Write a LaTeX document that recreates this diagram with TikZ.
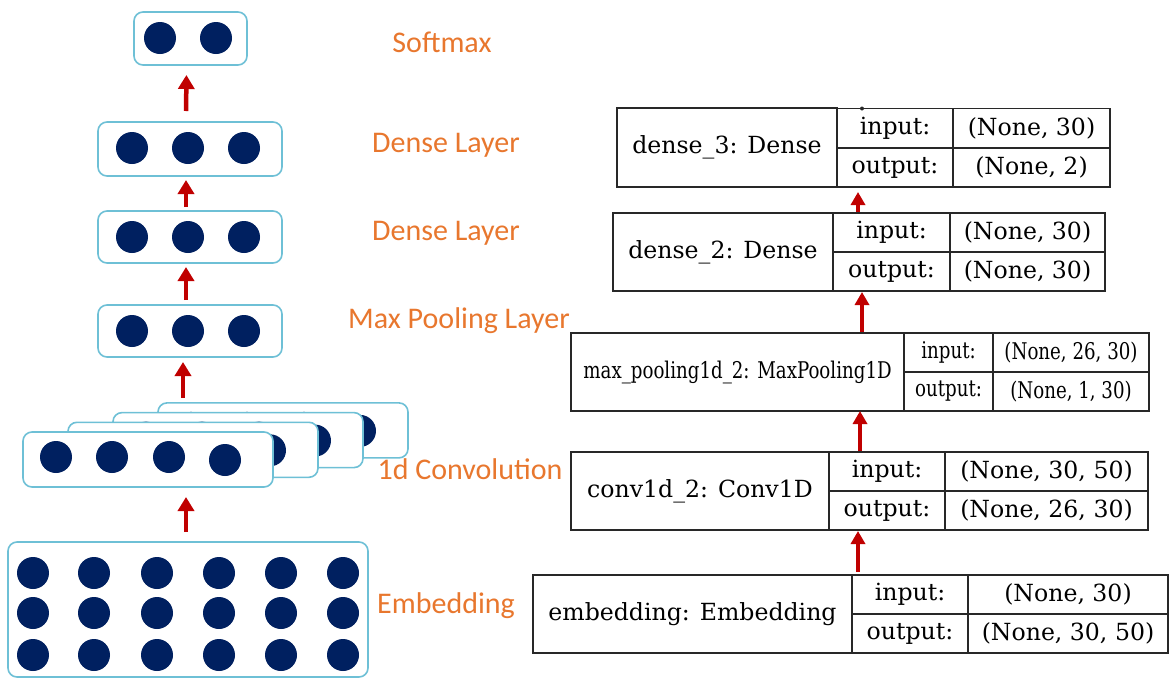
\documentclass[tikz,border=0pt]{standalone}
\usepackage{fontspec}
\usepackage{graphicx}
\setmainfont{DejaVu Serif}
\newfontfamily\calibri{Carlito}
\newfontfamily\condserif{DejaVu Serif Condensed}
\usetikzlibrary{arrows.meta,positioning}
\definecolor{layerline}{RGB}{110,192,214}
\definecolor{unitfill}{RGB}{0,32,96}
\definecolor{flowred}{RGB}{192,0,0}
\definecolor{layertext}{RGB}{232,119,46}
\definecolor{tabline}{RGB}{40,40,40}
\newcommand{\squeeze}[1]{\scalebox{0.88}[1]{#1}}
\tikzset{
  layerbox/.style={draw=layerline,line width=1.6pt,rounded corners=9pt,fill=white,inner sep=0pt,outer sep=0pt},
  unit/.style={fill=unitfill},
  flow/.style={draw=flowred,line width=4.5pt,-{Triangle[length=14pt,width=16pt]}},
  tabflow/.style={draw=flowred,line width=4pt,-{Triangle[length=13pt,width=14pt]}},
  layername/.style={text=layertext,font=\calibri\fontsize{30}{30}\selectfont,inner sep=0pt},
  cell/.style={draw=tabline,line width=1.3pt,inner sep=0pt,outer sep=0pt,minimum height=39pt,font=\fontsize{23.6}{23.6}\selectfont},
  namecell/.style={cell,minimum height=78pt},
  narrow/.style={font=\condserif\fontsize{23}{23}\selectfont},
}
\begin{document}
\begin{tikzpicture}[x=1pt,y=-1pt,>=latex]
\useasboundingbox (0,0) rectangle (1171,678);
%% left: layers
\node (softmax) at (190.5,38.5) [layerbox,minimum width=113pt,minimum height=53pt] {};
\node (dense1) at (190,149) [layerbox,minimum width=184pt,minimum height=54pt] {};
\node (dense2) at (190,237) [layerbox,minimum width=184pt,minimum height=52pt] {};
\node (maxp) at (190,331) [layerbox,minimum width=184pt,minimum height=52pt] {};
\node (embed) at (188,609.5) [layerbox,minimum width=360pt,minimum height=135pt] {};
\foreach \x in {160,216} \fill[unit] (\x,38) circle (16pt);
\foreach \y in {148,237,331}
  \foreach \x in {132,188,244} \fill[unit] (\x,\y) circle (16pt);
\foreach \y in {573,613,655}
  \foreach \x in {33,94,157,219,281,343} \fill[unit] (\x,\y) circle (16pt);
% stacked filters, back to front
\foreach \k in {3,2,1,0} {
  \node (conv\k) at ({148+45*\k},{459.5-9.7*\k}) [layerbox,minimum width=250pt,minimum height=55pt] {};
  \foreach \dx/\dy in {-92/-2.5,-36/-2.5,21/-2.5,77/0.5}
    \fill[unit] ([shift={(\dx,\dy)}]conv\k.center) circle (16pt);
}
\draw[flow,shorten <=10pt,shorten >=10pt] ([xshift=-2pt]embed.north) -- ([xshift=-2pt]embed.north |- conv0.south);
\draw[flow,shorten <=5pt,shorten >=5pt] ([xshift=-7pt]maxp.south |- conv3.north) -- ([xshift=-7pt]maxp.south);
\draw[flow,shorten <=5pt,shorten >=4pt] ([xshift=-4pt]maxp.north) -- ([xshift=-4pt]dense2.south);
\draw[flow,shorten <=4pt,shorten >=4pt] ([xshift=-4pt]dense2.north) -- ([xshift=-4pt]dense1.south);
\draw[flow,shorten <=11pt,shorten >=10pt] ([xshift=-4pt]dense1.north) -- ([xshift=-4pt]softmax.south);
%% left: captions
\node (lbl_softmax) at (442,42) [layername] {Softmax};
\node (lbl_dense1) at (446,145) [layername] {Dense Layer};
\node (lbl_dense2) at (446,233) [layername] {Dense Layer};
\node (lbl_maxp) at (459,321) [layername] {Max Pooling Layer};
\node (lbl_conv) at (470,469) [layername] {1d Convolution};
\node (lbl_embed) at (446,606) [layername] {Embedding};
%% right: model plot
\node (dense3_name) at (727,147.5) [namecell,minimum width=220pt,minimum height=79pt] {dense\_3: Dense};
\node (dense3_in) at (895,128) [cell,minimum width=116pt] {input:};
\node (dense3_out) at (895,167.5) [cell,minimum width=116pt] {output:};
\node (dense3_inv) at (1031.5,128) [cell,minimum width=157pt] {(None, 30)};
\node (dense3_outv) at (1031.5,167.5) [cell,minimum width=157pt] {(None, 2)};
%
\node (dense2_name) at (723,252) [namecell,minimum width=220pt] {dense\_2: Dense};
\node (dense2_in) at (891.5,232.5) [cell,minimum width=117pt] {input:};
\node (dense2_out) at (891.5,271.5) [cell,minimum width=117pt] {output:};
\node (dense2_inv) at (1027.5,232.5) [cell,minimum width=155pt] {(None, 30)};
\node (dense2_outv) at (1027.5,271.5) [cell,minimum width=155pt] {(None, 30)};
%
\node (max_name) at (737.5,372) [namecell,narrow,minimum width=333pt] {\squeeze{max\_pooling1d\_2: MaxPooling1D}};
\node (max_in) at (948.5,352.5) [cell,narrow,minimum width=89pt] {\squeeze{input:}};
\node (max_out) at (948.5,391.5) [cell,narrow,minimum width=89pt] {\squeeze{output:}};
\node (max_inv) at (1071,352.5) [cell,narrow,minimum width=156pt] {\squeeze{(None, 26, 30)}};
\node (max_outv) at (1071,391.5) [cell,narrow,minimum width=156pt] {\squeeze{(None, 1, 30)}};
%
\node (conv_name) at (700,491) [namecell,minimum width=258pt] {conv1d\_2: Conv1D};
\node (conv_in) at (887,471.5) [cell,minimum width=116pt] {input:};
\node (conv_out) at (887,510.5) [cell,minimum width=116pt] {output:};
\node (conv_inv) at (1046.5,471.5) [cell,minimum width=203pt] {(None, 30, 50)};
\node (conv_outv) at (1046.5,510.5) [cell,minimum width=203pt] {(None, 26, 30)};
%
\node (emb_name) at (692.5,614) [namecell,minimum width=319pt] {embedding: Embedding};
\node (emb_in) at (910,594.5) [cell,minimum width=116pt] {input:};
\node (emb_out) at (910,633.5) [cell,minimum width=116pt] {output:};
\node (emb_inv) at (1068,594.5) [cell,minimum width=200pt] {(None, 30)};
\node (emb_outv) at (1068,633.5) [cell,minimum width=200pt] {(None, 30, 50)};
%
\draw[tabflow,shorten <=3pt,shorten >=1pt] ([xshift=6pt]emb_in.north west) -- ([xshift=6pt]emb_in.north west |- conv_out.south);
\draw[tabflow,shorten <=1pt] ([xshift=31pt]conv_in.north west) -- ([xshift=31pt]conv_in.north west |- max_out.south);
\draw[tabflow,shorten <=1pt,shorten >=1pt] ([xshift=-42pt]max_name.north east) -- ([xshift=-42pt]max_name.north east |- dense2_out.south);
\draw[tabflow,shorten <=1pt,shorten >=5pt] ([xshift=25pt]dense2_in.north west) -- ([xshift=25pt]dense2_in.north west |- dense3_out.south);
\fill[tabline] ([xshift=25pt]dense3_in.north west) circle (2pt);
\end{tikzpicture}
\end{document}
